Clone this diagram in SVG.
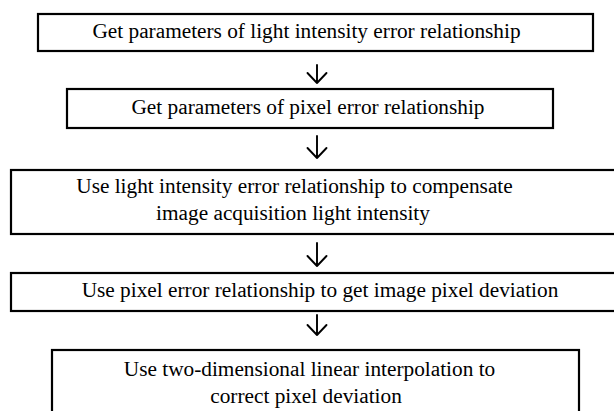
<svg xmlns="http://www.w3.org/2000/svg" width="614" height="411" viewBox="0 0 614 411">
<style>
.box{fill:#fff;stroke:#000;stroke-width:2.2}
.t{font-family:"Liberation Serif","Times New Roman",serif;font-size:21.3px;fill:#000;text-anchor:middle}
.arr{fill:none;stroke:#000;stroke-width:1.9;stroke-linecap:round;stroke-linejoin:round}
</style>
<rect width="614" height="411" fill="#fff"/>
<g id="connectors">
<path class="arr" d="M317 65 V83 M307.5 73 L317 83 L326.5 73"/>
<path class="arr" d="M317 136 V158 M307.5 148 L317 158 L326.5 148"/>
<path class="arr" d="M317 243 V266 M307.5 256 L317 266 L326.5 256"/>
<path class="arr" d="M317 315 V335 M307.5 325 L317 335 L326.5 325"/>
</g>
<g id="n1"><rect class="box" x="38" y="14" width="555" height="37"/><text class="t" x="306.5" y="38">Get parameters of light intensity error relationship</text></g>
<g id="n2"><rect class="box" x="67" y="89" width="486" height="39"/><text class="t" x="308" y="114">Get parameters of pixel error relationship</text></g>
<g id="n3"><rect class="box" x="11" y="170" width="610" height="64"/><text class="t" x="294.5" y="193">Use light intensity error relationship to compensate</text><text class="t" x="293" y="220">image acquisition light intensity</text></g>
<g id="n4"><rect class="box" x="11" y="273" width="610" height="38"/><text class="t" x="320" y="297">Use pixel error relationship to get image pixel deviation</text></g>
<g id="n5"><rect class="box" x="52" y="350" width="527" height="70"/><text class="t" x="309.5" y="376">Use two-dimensional linear interpolation to</text><text class="t" x="306" y="403">correct pixel deviation</text></g>
</svg>
